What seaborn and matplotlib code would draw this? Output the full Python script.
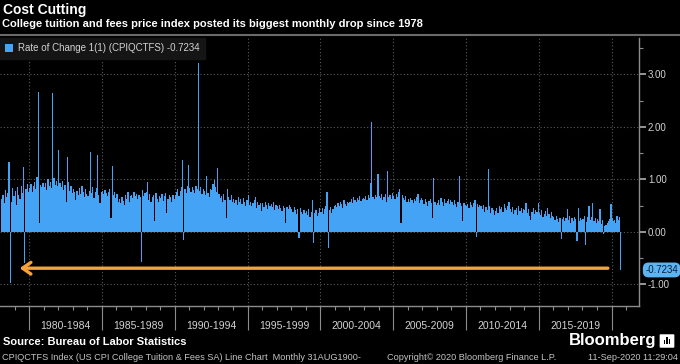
import numpy as np
import pandas as pd
import seaborn as sns
import matplotlib.pyplot as plt
from matplotlib.lines import Line2D
from matplotlib.patches import FancyBboxPatch, Rectangle
from matplotlib.ticker import FixedLocator, NullFormatter, FormatStrFormatter

# Monthly rate of change of CPIQCTFS, Feb 1978 .. Aug 2020
chg_1978_1979 = [0.62, 0.71, 0.55, 0.80, 0.66, 0.74, 1.33, -0.97, 0.58, 0.84, 0.69,
                 0.78, 0.52, 0.85, 0.70, 0.63, 0.88, 0.74, 1.24, -0.59, 0.81, 0.92, 0.77]
chg_1980_1984 = [0.84, 0.91, 0.76, 0.88, 0.95, 0.82, 1.05, 2.67, 0.17, 0.90, 0.86, 0.93,
                 0.86, 0.94, 0.80, 1.01, 0.88, 0.96, 0.84, 2.64, 1.02, 0.90, 0.97, 0.87,
                 1.56, 0.93, 0.85, 0.98, 0.80, 0.90, 0.58, 1.43, 0.95, 0.78, 0.88, 0.74,
                 0.82, 0.76, 0.61, 0.79, 0.70, 0.84, 0.73, 0.88, 0.77, 0.66, 0.81, 0.72,
                 0.68, 0.79, 1.52, 0.74, 0.86, 0.65, 0.77, 0.83, 1.47, 0.71, 0.55, 0.76]
chg_1985_1989 = [0.78, 0.72, 0.80, 0.75, 0.69, 0.77, 0.82, 0.27, 1.26, 0.70, 0.76, 0.64,
                 0.73, 0.58, 0.62, 0.55, 0.66, 0.59, 0.52, 0.71, 0.63, 0.76, 0.57, 0.68,
                 0.71, 0.64, 0.76, 0.68, 0.73, 0.62, 0.70, 0.66, -0.57, 0.80, 0.69, 0.74,
                 0.77, 0.95, 0.61, 0.72, 0.58, 0.66, 0.70, 0.20, 0.74, 0.63, 0.57, 0.69,
                 0.64, 0.72, 0.59, 0.68, 0.74, 0.36, 0.62, 0.70, 0.66, 0.58, 0.71, 0.63]
chg_1990_1994 = [0.70, 0.76, 0.82, 0.68, 0.79, 0.85, 1.37, -0.15, 0.81, 0.74, 0.87, 1.28,
                 0.84, 0.77, 0.86, 0.80, 0.75, 0.88, 0.82, 3.22, 0.79, 0.85, 0.73, 0.81,
                 0.78, 0.70, 1.07, 0.74, 0.66, 0.82, 0.80, 0.92, 0.99, 0.85, 0.76, 1.22,
                 0.72, 0.64, 0.69, 0.58, 0.73, 0.61, 0.27, 0.81, 0.66, 0.60, 0.70, 0.57,
                 0.63, 0.55, 0.60, 0.52, 0.66, 0.58, 0.62, 0.54, 0.64, 0.57, 0.49, 0.61]
chg_1995_1999 = [0.70, 0.52, 0.57, 0.49, 0.55, 0.60, 0.67, 0.46, 0.58, 0.51, 0.56, 0.40,
                 0.55, 0.48, 0.58, 0.51, 0.44, 0.56, 0.50, 0.53, 0.47, 0.57, 0.42, 0.52,
                 0.49, 0.44, 0.51, 0.46, 0.40, 0.50, 0.45, 0.17, 0.48, 0.43, 0.52, 0.47,
                 0.44, 0.38, 0.47, 0.41, 0.35, 0.43, -0.12, 0.45, 0.39, 0.34, 0.42, 0.37,
                 0.40, 0.33, 0.44, 0.29, 0.38, 0.61, -0.21, 0.36, 0.42, 0.31, 0.37, 0.45]
chg_2000_2004 = [0.39, 0.46, 0.35, 0.43, 0.49, 0.77, -0.31, 0.41, 0.48, 0.36, 0.44, 0.50,
                 0.52, 0.47, 0.56, 0.50, 0.58, 0.53, 0.46, 0.60, 0.54, 0.49, 0.57, 0.55,
                 0.58, 0.63, 0.55, 0.66, 0.60, 0.57, 0.64, 0.61, 0.68, 0.59, 0.62, 0.65,
                 0.62, 0.68, 0.60, 0.71, 0.65, 0.93, 2.10, 0.67, 0.63, 0.70, 0.66, 1.10,
                 0.69, 0.64, 0.72, 0.60, 0.67, 0.73, 0.58, 1.16, 0.66, 0.71, 0.62, 0.74]
chg_2005_2009 = [0.68, 0.63, 0.72, 0.66, 0.77, 0.81, 0.17, 0.70, 0.64, 0.61, 0.69, 0.58,
                 0.62, 0.57, 0.65, 0.60, 0.55, 0.63, 0.59, 0.66, 0.72, 0.56, 0.61, 0.64,
                 0.60, 0.53, 0.63, 0.57, 0.50, 0.59, 0.62, 0.55, 0.27, 1.02, 0.58, 0.52,
                 0.56, 0.61, 0.52, 0.64, 0.58, 0.50, 0.62, 0.55, 0.59, 0.63, 0.54, 0.60,
                 0.57, 0.51, 0.60, 0.53, 0.48, 0.58, 1.06, 0.55, 0.49, 0.20, 0.56, 0.52]
chg_2010_2014 = [0.50, 0.54, 0.46, 0.57, 0.52, 0.48, 0.55, 0.60, -0.10, 0.53, 0.47, 0.51,
                 0.49, 0.44, 0.52, 0.38, 0.47, 0.42, 1.20, 0.50, 0.36, 0.45, 0.41, 0.33,
                 0.40, 0.46, 0.37, 0.50, 0.43, 0.48, 0.39, 0.53, 0.45, 0.41, 0.49, 0.57,
                 0.44, 0.38, 0.47, 0.35, 0.42, 0.46, 0.33, 0.50, 0.40, 0.45, 0.37, 0.43,
                 0.41, 0.55, 0.36, 0.44, 0.31, 0.22, 0.39, 0.46, 0.35, 0.42, 0.38, 0.55]
chg_2015_2020 = [0.37, 0.32, 0.41, 0.29, 0.35, 0.40, 0.30, 0.46, 0.34, 0.27, 0.38, 0.31,
                 0.28, 0.22, 0.30, 0.25, 0.19, 0.27, -0.14, 0.24, 0.29, 0.21, 0.26, 0.44,
                 0.23, 0.30, 0.18, 0.26, 0.21, 0.29, 0.24, -0.18, 0.46, 0.20, 0.27, 0.22,
                 0.25, 0.31, -0.25, 0.19, 0.28, 0.50, 0.23, 0.29, 0.56, 0.21, 0.26, 0.18,
                 0.24, 0.20, 0.43, 0.16, 0.22, -0.04, 0.12, 0.14, 0.18, 0.21, 0.25, 0.54,
                 0.26, 0.20, 0.23, 0.17, 0.30, 0.22, 0.28, -0.7234]

period_labels = ["1980-1984", "1985-1989", "1990-1994", "1995-1999",
                 "2000-2004", "2005-2009", "2010-2014", "2015-2019"]
period_starts = [1980, 1985, 1990, 1995, 2000, 2005, 2010, 2015, 2020]
y_ticks = [-1, 0, 1, 2, 3]
last_value = -0.7234
series_label = "Rate of Change 1(1) (CPIQCTFS) -0.7234"

values = (chg_1978_1979 + chg_1980_1984 + chg_1985_1989 + chg_1990_1994 +
          chg_1995_1999 + chg_2000_2004 + chg_2005_2009 + chg_2010_2014 + chg_2015_2020)
months = pd.date_range("1978-02-01", periods=len(values), freq="MS")
df = pd.DataFrame({"t": months.year + (months.month - 1) / 12 + 1 / 24, "chg": values})

BLUE = "#45a3f5"
ORANGE = "#f7a23a"
GRID = "#5a5a5a"
AXIS = "#8c8c8c"
LABEL = "#d2d2d2"

sns.set_theme(style="dark", rc={"axes.facecolor": "black", "figure.facecolor": "black",
                                "savefig.facecolor": "black", "text.color": LABEL})
plt.rcParams["font.family"] = ["Liberation Sans", "DejaVu Sans"]
plt.rcParams["axes.unicode_minus"] = False

fig = plt.figure(figsize=(6.8, 3.64), dpi=100)
ax = fig.add_axes([0, 58 / 364, 639 / 680, 268 / 364])

sns.barplot(data=df, x="t", y="chg", native_scale=True, orient="x", width=1.0,
            color=BLUE, saturation=1, errorbar=None, linewidth=0, label=series_label, ax=ax)

ax.set_xlim(1978.0, 1978 + 639 / 14.56)
ax.set_ylim(-1.41, 3.695)
ax.set_xlabel("")
ax.set_ylabel("")

# x axis: long separators at 5-year marks, labels centred between them
ax.xaxis.set_major_locator(FixedLocator(period_starts))
ax.xaxis.set_major_formatter(NullFormatter())
ax.set_xticks([s + 2.5 for s in period_starts[:-1]], labels=period_labels, minor=True)
ax.tick_params(axis="x", which="major", bottom=True, length=17, width=0.8, color=AXIS)
ax.tick_params(axis="x", which="minor", bottom=True, length=0, pad=10.5,
               labelsize=7.5, labelcolor=LABEL)

yearly = ax.secondary_xaxis("bottom")
yearly.set_xticks(range(1979, 2022))
yearly.xaxis.set_major_formatter(NullFormatter())
yearly.tick_params(length=3, width=0.8, color=AXIS)
yearly.spines["bottom"].set_visible(False)

# y axis on the right
ax.yaxis.tick_right()
ax.set_yticks(y_ticks)
ax.set_yticks([-0.5, 0.5, 1.5, 2.5, 3.5], minor=True)
ax.yaxis.set_major_formatter(FormatStrFormatter("%.2f"))
ax.tick_params(axis="y", which="major", right=True, left=False, length=5, width=1.2,
               color="#b0b0b0", pad=1.5, labelsize=7, labelcolor=LABEL)
ax.tick_params(axis="y", which="minor", right=True, left=False, length=3, width=0.8, color=AXIS)

ax.grid(True, which="major", color=GRID, linestyle=(0, (1, 2)), linewidth=0.8)
ax.set_axisbelow(True)
for side in ["top", "left"]:
    ax.spines[side].set_visible(False)
for side in ["right", "bottom"]:
    ax.spines[side].set_visible(True)
    ax.spines[side].set_color(AXIS)
    ax.spines[side].set_linewidth(1)

leg = ax.legend(loc="upper left", bbox_to_anchor=(0, 1), frameon=True, fancybox=False,
                facecolor="#151515", edgecolor="#151515", fontsize=7, labelcolor=LABEL,
                handlelength=0.8, handleheight=0.8, handletextpad=0.5, borderpad=0.55,
                borderaxespad=0)
leg.get_frame().set_alpha(1)

ax.annotate("", xy=(1979.35, -0.69), xytext=(2019.75, -0.69),
            arrowprops=dict(arrowstyle="->,head_length=0.5,head_width=0.35",
                            color=ORANGE, lw=2.4, shrinkA=0, shrinkB=0))

ax.annotate(f"{last_value:.4f}", xy=(1.0, last_value), xycoords=("axes fraction", "data"),
            xytext=(4.5, 0), textcoords="offset points", ha="left", va="center",
            fontsize=7, color="#0b1d3a", annotation_clip=False,
            bbox=dict(boxstyle="round,pad=0.25,rounding_size=0.6", fc="#5cb4f0", ec="none"))

# header / footer
fig.text(3 / 680, 1 - 10 / 364, "Cost Cutting", fontsize=10, fontweight="bold",
         color="white", va="center")
fig.text(2 / 680, 1 - 24 / 364,
         "College tuition and fees price index posted its biggest monthly drop since 1978",
         fontsize=8, fontweight="bold", color="white", va="center")
fig.add_artist(Line2D([0, 1], [1 - 35 / 364] * 2, color="#6a6a6a", lw=1.5))

fig.text(3 / 680, 1 - 342 / 364, "Source: Bureau of Labor Statistics", fontsize=8,
         fontweight="bold", color="white", va="center")
fig.text(2 / 680, 1 - 357 / 364,
         "CPIQCTFS Index (US CPI College Tuition & Fees SA) Line Chart  Monthly 31AUG1900-",
         fontsize=6.6, color="#c4c4c4", va="center")
fig.text(387 / 680, 1 - 357 / 364, "Copyright\u00a9 2020 Bloomberg Finance L.P.",
         fontsize=6.6, color="#c4c4c4", va="center")
fig.text(678 / 680, 1 - 357 / 364, "11-Sep-2020 11:29:04", fontsize=6.6,
         color="#c4c4c4", va="center", ha="right")
fig.text(569 / 680, 1 - 340 / 364, "Bloomberg", fontsize=12, fontweight="bold",
         color="white", va="center")

icon = FancyBboxPatch((661 / 680, 1 - 347 / 364), 12 / 680, 12 / 364,
                      boxstyle="round,pad=0.002", transform=fig.transFigure,
                      fc="white", ec="none")
fig.add_artist(icon)
for i, h in enumerate([4, 7, 5]):
    fig.add_artist(Rectangle(((664 + 2.3 * i) / 680, 1 - 344 / 364), 1.4 / 680, h / 364,
                             transform=fig.transFigure, fc="black", ec="none"))

fig.savefig("out.png", dpi=100, facecolor="black")
